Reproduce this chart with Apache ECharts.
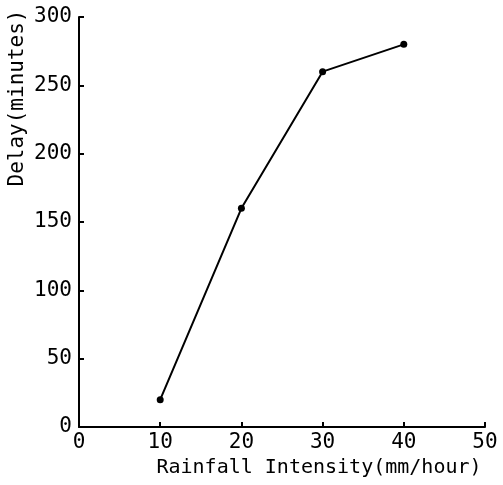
<!DOCTYPE html>
<html><head><meta charset="utf-8">
<script src="https://cdn.jsdelivr.net/npm/echarts@6/dist/echarts.min.js"></script>
<style>html,body{margin:0;padding:0;background:#fff}#c{width:503px;height:485px}</style>
</head><body><div id="c"></div>
<script>
const rainfall = [10, 20, 30, 40];
const delay = [20, 160, 260, 280];
const xTicks = [0, 10, 20, 30, 40, 50];
const yTicks = [0, 50, 100, 150, 200, 250, 300];
const xTitle = 'Rainfall Intensity(mm/hour)';
const yTitle = 'Delay(minutes)';

const font = '"DejaVu Sans Mono", monospace';
const chart = echarts.init(document.getElementById('c'));
chart.setOption({
  backgroundColor: '#fff',
  animation: false,
  grid: { left: 79, right: 18, top: 17, bottom: 58, containLabel: false, outerBoundsMode: 'none' },
  xAxis: {
    type: 'value', min: xTicks[0], max: xTicks[xTicks.length - 1], interval: 10,
    name: xTitle, nameLocation: 'middle', nameGap: 31,
    nameTextStyle: { fontFamily: font, fontSize: 20, color: '#000', padding: [0, 0, 0, 74], verticalAlign: 'top' },
    axisLine: { show: true, lineStyle: { color: '#000', width: 2 } },
    axisTick: { show: true, inside: true, length: 5, lineStyle: { color: '#000', width: 2 } },
    axisLabel: { fontFamily: font, fontSize: 21, color: '#000', margin: 5 },
    splitLine: { show: false }
  },
  yAxis: {
    type: 'value', min: yTicks[0], max: yTicks[yTicks.length - 1], interval: 50,
    axisLine: { show: true, lineStyle: { color: '#000', width: 2 } },
    axisTick: { show: true, inside: true, length: 5, lineStyle: { color: '#000', width: 2 } },
    axisLabel: { fontFamily: font, fontSize: 21, color: '#000', margin: 7 },
    splitLine: { show: false }
  },
  graphic: [{
    type: 'text', x: 18, y: 98, rotation: Math.PI / 2,
    style: { text: yTitle, fontFamily: font, fontSize: 21, fill: '#000', align: 'center', verticalAlign: 'middle' }
  }],
  series: [{
    type: 'line',
    data: rainfall.map((x, i) => [x, delay[i]]),
    symbol: 'circle', symbolSize: 7,
    itemStyle: { color: '#000' },
    lineStyle: { color: '#000', width: 2 }
  }]
});
</script></body></html>
